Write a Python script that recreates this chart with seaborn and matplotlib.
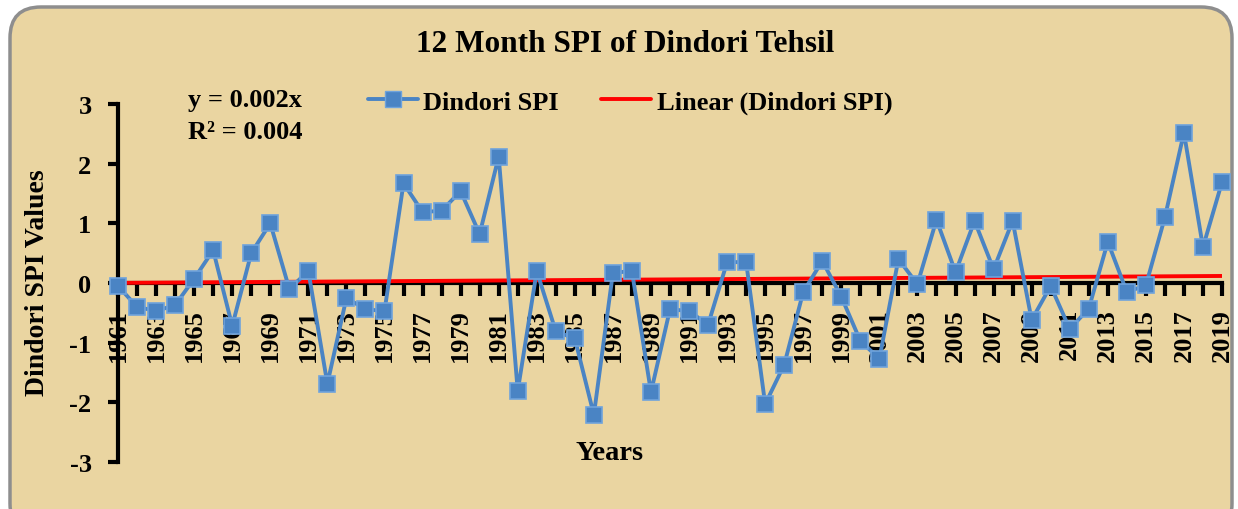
import matplotlib
matplotlib.use("Agg")
import matplotlib.pyplot as plt
from matplotlib.patches import FancyBboxPatch
from matplotlib.lines import Line2D
import numpy as np
import pandas as pd
import seaborn as sns

# Data
years = list(range(1961, 2020))
spi = [-0.05, -0.40, -0.47, -0.37, 0.07, 0.55, -0.72, 0.50, 1.00, -0.10,
       0.20, -1.69, -0.25, -0.44, -0.47, 1.67, 1.19, 1.21, 1.54, 0.82,
       2.12, -1.81, 0.20, -0.81, -0.93, -2.21, 0.17, 0.20, -1.83, -0.44,
       -0.47, -0.70, 0.35, 0.35, -2.03, -1.37, -0.15, 0.37, -0.23, -0.97,
       -1.27, 0.40, -0.02, 1.06, 0.18, 1.04, 0.23, 1.04, -0.62, -0.05,
       -0.77, -0.43, 0.69, -0.15, -0.04, 1.10, 2.52, 0.60, 1.69]
trend_slope = 0.002
y_ticks = [-3, -2, -1, 0, 1, 2, 3]

df = pd.DataFrame({"Year": years, "SPI": spi})
df["Trend"] = trend_slope * (np.arange(len(years)) + 1)

palette = {"panel": "#ead5a1", "border": "#8e8e8e", "blue": "#4a84c4",
           "blue_edge": "#6fa3dc", "red": "#ff0000", "text": "#000000"}

sns.set_style("white", rc={"text.color": "black", "axes.labelcolor": "black",
                           "xtick.color": "black", "ytick.color": "black"})
plt.rcParams["font.family"] = ["Liberation Serif", "DejaVu Serif"]
plt.rcParams["font.weight"] = "bold"

fig = plt.figure(figsize=(12.38, 5.10), dpi=100, facecolor="white")

# Rounded background panel
panel = FancyBboxPatch((10 / 1238, -0.05), 1222 / 1238, 1.05 - 8 / 510,
                       boxstyle="round,pad=0,rounding_size=0.025",
                       transform=fig.transFigure, facecolor=palette["panel"],
                       edgecolor=palette["border"], linewidth=2.5,
                       mutation_aspect=1238 / 510, zorder=-5)
fig.patches.append(panel)

ax = fig.add_axes([118 / 1238, 1 - 463 / 510, (1222 - 118) / 1238, (463 - 105) / 510])
ax.set_zorder(2)
ax.patch.set_alpha(0)

sns.lineplot(data=df, x="Year", y="SPI", ax=ax, color=palette["blue"],
             linewidth=2.8, marker="s", markersize=11,
             markerfacecolor=palette["blue"], markeredgecolor=palette["blue_edge"],
             markeredgewidth=1.2, zorder=4, clip_on=False)
sns.lineplot(data=df, x="Year", y="Trend", ax=ax, color=palette["red"],
             linewidth=2.8, zorder=3)

ax.set_xlim(1961, 2019)
ax.set_ylim(-3, 3)

# Spines
for side in ["top", "right"]:
    ax.spines[side].set_visible(False)
ax.spines["bottom"].set_position(("data", 0))
for side in ["bottom", "left"]:
    ax.spines[side].set_linewidth(3)
    ax.spines[side].set_color("black")
ax.spines["bottom"].set_zorder(2)

ax.set_yticks(y_ticks)
ax.set_yticklabels([str(v) for v in y_ticks], fontsize=19, fontweight="bold")
ax.set_xticks(years[::2])
ax.set_xticks(years[1::2], minor=True)
ax.set_xticklabels([str(y) for y in years[::2]], rotation=90,
                   fontsize=19, fontweight="bold")
ax.tick_params(axis="x", which="both", direction="out", length=9, width=3,
               pad=9, bottom=True, color="black")
ax.tick_params(axis="y", direction="out", length=7, width=3, left=True, pad=12,
               color="black")

ax.set_xlabel("")
ax.set_ylabel("")
fig.text(38 / 1238, 1 - 283 / 510, "Dindori SPI Values", rotation=90,
         ha="center", va="center", fontsize=20, fontweight="bold")
fig.text(610 / 1238, 1 - 454 / 510, "Years", ha="center", va="center",
         fontsize=20.5, fontweight="bold")

# Title
fig.text(625 / 1238, 1 - 45 / 510, "12 Month SPI of Dindori Tehsil",
         ha="center", va="center", fontsize=22.5, fontweight="bold")

# Trend equation
fig.text(188 / 1238, 1 - 101 / 510, "y = 0.002x", ha="left", va="center",
         fontsize=19, fontweight="bold")
fig.text(188 / 1238, 1 - 133 / 510, "R² = 0.004", ha="left", va="center",
         fontsize=19, fontweight="bold")

# Legend
handles = [Line2D([], [], color=palette["blue"], linewidth=2.8, marker="s",
                  markersize=11, markerfacecolor=palette["blue"],
                  markeredgecolor=palette["blue_edge"]),
           Line2D([], [], color=palette["red"], linewidth=2.8)]
fig.legend(handles, ["Dindori SPI", "Linear (Dindori SPI)"],
           loc="center", bbox_to_anchor=(630 / 1238, 1 - 103 / 510), ncol=2,
           frameon=False, handlelength=1.9, columnspacing=1.6,
           handletextpad=0.2, prop={"weight": "bold", "size": 19})

fig.savefig("out.png", dpi=100, facecolor="white")
